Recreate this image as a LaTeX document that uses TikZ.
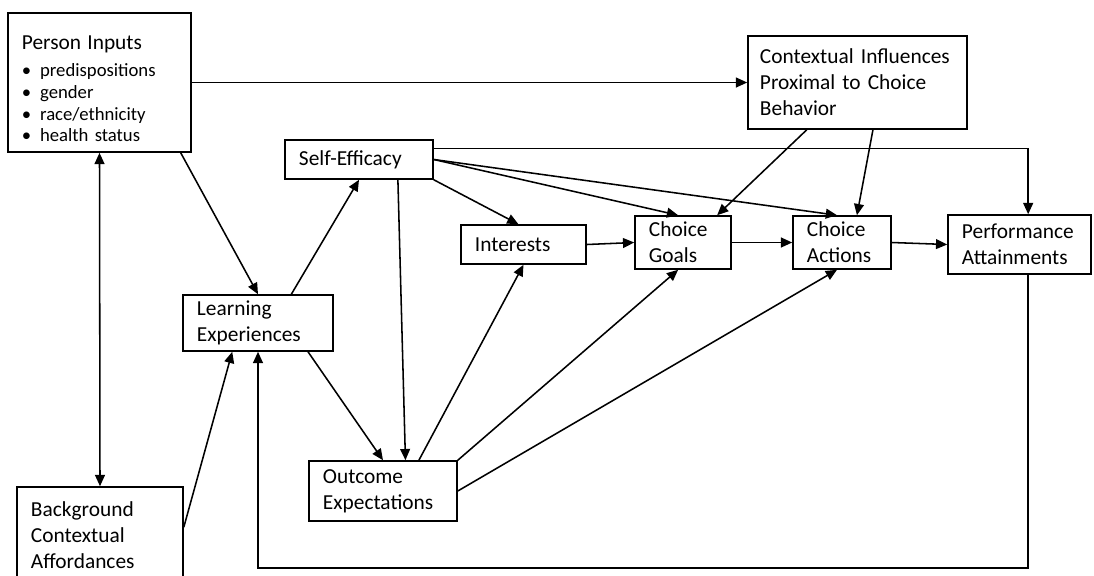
\documentclass[tikz,border=0pt]{standalone}
\usepackage{fontspec}
\setmainfont{Carlito}
\usetikzlibrary{arrows.meta,calc}

\tikzset{
  box/.style={draw, line width=1.1pt, align=left, inner xsep=0.35cm, inner ysep=0pt,
    font=\fontsize{15.2}{18.4}\selectfont},
  link/.style={line width=1.1pt, -{Triangle[length=8pt,width=7pt]}},
}
\newcommand{\itm}[1]{\textbullet\hspace{0.22cm}#1}

\begin{document}
\begin{tikzpicture}[x=0.025cm,y=-0.025cm]
 \useasboundingbox (0,0) rectangle (1094,575);
 \clip (0,0) rectangle (1094,575);
 \node[box, text width=3.875cm, minimum height=3.475cm, font=\fontsize{13.3}{15.4}\selectfont] (inputs) at (99.5,82.5)
   {{\fontsize{15.2}{18.4}\selectfont\rule{0pt}{19pt}Person Inputs}\\[4pt] \itm{predispositions}\\ \itm{gender}\\ \itm{race/ethnicity}\\ \itm{health status}};
 \node[box, inner xsep=0.3cm, text width=4.875cm, minimum height=2.325cm] (context) at (857.5,82.5)
   {Contextual Influences\\ Proximal to Choice\\ Behavior};
 \node[box, text width=3.45cm, minimum height=2.4cm] (background) at (100,535)
   {Background\\ Contextual\\ Affordances};
 \node[box, text width=3cm, minimum height=0.975cm] (efficacy) at (359,159.5) {Self-Efficacy};
 \node[box, text width=2.425cm, minimum height=0.975cm] (interests) at (523.5,244.5) {Interests};
 \node[box, text width=1.7cm, minimum height=1.325cm] (goals) at (683,242.5) {Choice\\ Goals};
 \node[box, text width=1.75cm, minimum height=1.325cm] (actions) at (842,242.5) {Choice\\ Actions};
 \node[box, text width=2.875cm, minimum height=1.475cm] (performance) at (1019.5,244.5) {Performance\\ Attainments};
 \node[box, text width=3.05cm, minimum height=1.4cm] (learning) at (258,323) {Learning\\ Experiences};
 \node[box, text width=3cm, minimum height=1.5cm] (outcome) at (383,491) {Outcome\\ Expectations};
 \coordinate (loop) at (0,568);

 \draw [link] (inputs.east) -- (context.west);
 \draw [link, {Triangle[length=8pt,width=7pt]}-{Triangle[length=8pt,width=7pt]}] (inputs.south) -- (background.north);
 \draw [link] ($(inputs.south west)!0.94!(inputs.south east)$) -- (learning.north);
 \draw [link] ($(background.north east)!0.42!(background.south east)$) -- ($(learning.south west)!0.33!(learning.south east)$);
 \draw [link] ($(learning.north west)!0.72!(learning.north east)$) -- (efficacy.south);
 \draw [link] ($(learning.south west)!0.83!(learning.south east)$) -- (outcome.north);
 \draw [link] ($(efficacy.south west)!0.76!(efficacy.south east)$) -- ($(outcome.north west)!0.65!(outcome.north east)$);
 \draw [link] (efficacy.south east) -- ($(interests.north west)!0.46!(interests.north east)$);
 \draw [link] (efficacy.east) -- ($(goals.north west)!0.45!(goals.north east)$);
 \draw [link] (efficacy.east) -- ($(actions.north west)!0.45!(actions.north east)$);
 \draw [link] ($(efficacy.north east)!0.23!(efficacy.south east)$) -| ($(performance.north west)!0.56!(performance.north east)$);
 \draw [link] ($(outcome.north west)!0.74!(outcome.north east)$) -- (interests.south);
 \draw [link] (outcome.north east) -- ($(goals.south west)!0.45!(goals.south east)$);
 \draw [link] (outcome.east) -- ($(actions.south west)!0.45!(actions.south east)$);
 \draw [link] (interests.east) -- (goals.west);
 \draw [link] (goals.east) -- (actions.west);
 \draw [link] (actions.east) -- (performance.west);
 \draw [link] ($(context.south west)!0.27!(context.south east)$) -- ($(goals.north west)!0.85!(goals.north east)$);
 \draw [link] ($(context.south west)!0.57!(context.south east)$) -- ($(actions.north west)!0.65!(actions.north east)$);
 \draw [link] ($(performance.south west)!0.56!(performance.south east)$) |- (learning.south |- loop) -- (learning.south);
\end{tikzpicture}
\end{document}
